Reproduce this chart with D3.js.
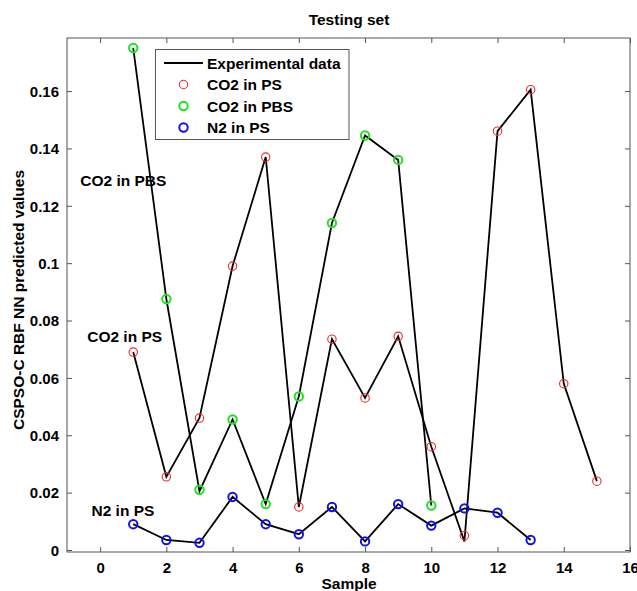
<!DOCTYPE html>
<html>
<head>
<meta charset="utf-8">
<script src="https://cdn.jsdelivr.net/npm/d3@7"></script>
<style>
  html, body { margin: 0; padding: 0; background: #fff; }
  svg { display: block; }
  text { font-family: "Liberation Sans", Arial, Helvetica, sans-serif; font-weight: bold; }
</style>
</head>
<body>
<svg id="chart" width="637" height="591"></svg>
<script>
// ---- Data ----
const co2PSSamples = [1,2,3,4,5,6,7,8,9,10,11,12,13,14,15];
const co2PSPred    = [0.069,0.0255,0.046,0.099,0.137,0.015,0.0735,0.053,0.0745,0.036,0.005,0.146,0.1605,0.058,0.024];
const co2PSExp     = [0.069,0.0255,0.046,0.099,0.137,0.015,0.0735,0.053,0.0745,0.036,0.003,0.146,0.1605,0.058,0.024];

const co2PBSSamples = [1,2,3,4,5,6,7,8,9,10];
const co2PBSPred    = [0.175,0.0875,0.021,0.0455,0.016,0.0535,0.114,0.1445,0.136,0.0155];
const co2PBSExp     = [0.175,0.0875,0.0205,0.0455,0.016,0.0535,0.114,0.1445,0.136,0.0155];

const n2PSSamples = [1,2,3,4,5,6,7,8,9,10,11,12,13];
const n2PSPred    = [0.009,0.0035,0.0025,0.0185,0.009,0.0055,0.015,0.003,0.016,0.0085,0.0145,0.013,0.0035];
const n2PSExp     = [0.009,0.0035,0.0025,0.0185,0.009,0.0055,0.015,0.003,0.016,0.0085,0.0145,0.013,0.0035];

const xTicks = [0,2,4,6,8,10,12,14,16];
const yTicks = [0,0.02,0.04,0.06,0.08,0.1,0.12,0.14,0.16];
const yTickLabels = ["0","0.02","0.04","0.06","0.08","0.1","0.12","0.14","0.16"];

const legendLabels = ["Experimental data","CO2 in PS","CO2 in PBS","N2 in PS"];
const seriesColors = ["#ee2a2a","#22e022","#1010ee"];
const annotations = [
  {text:"CO2 in PBS", x:-0.6, y:0.1269},
  {text:"CO2 in PS",  x:-0.39, y:0.0726},
  {text:"N2 in PS",   x:-0.26, y:0.01185}
];

// ---- Layout ----
const svg = d3.select("#chart");
const L = 67, R = 630, T = 38, B = 552;
const x = d3.scaleLinear().domain([-1,16]).range([L,R]);
const y = d3.scaleLinear().domain([-0.0007,0.1785]).range([B,T]);
const fs = 15.5;
const tfs = 15;
const axisColor = "#555";

// Box
svg.append("rect").attr("x",L).attr("y",T).attr("width",R-L).attr("height",B-T)
  .attr("fill","none").attr("stroke",axisColor).attr("stroke-width",1);

// Axes with inward ticks
const xb = svg.append("g").attr("transform",`translate(0,${B})`)
  .call(d3.axisBottom(x).tickValues(xTicks).tickSizeInner(-5).tickSizeOuter(0).tickPadding(10));
const xt = svg.append("g").attr("transform",`translate(0,${T})`)
  .call(d3.axisTop(x).tickValues(xTicks).tickSizeInner(-5).tickSizeOuter(0).tickFormat(""));
const yl = svg.append("g").attr("transform",`translate(${L},0)`)
  .call(d3.axisLeft(y).tickValues(yTicks).tickSizeInner(-5).tickSizeOuter(0).tickPadding(8)
    .tickFormat((d,i)=>yTickLabels[i]));
const yr = svg.append("g").attr("transform",`translate(${R},0)`)
  .call(d3.axisRight(y).tickValues(yTicks).tickSizeInner(-5).tickSizeOuter(0).tickFormat(""));
[xb,xt,yl,yr].forEach(g=>{
  g.select(".domain").remove();
  g.selectAll(".tick line").attr("stroke",axisColor);
  g.selectAll(".tick text").attr("fill","#000").style("font-size",tfs+"px")
   .style("font-family",'"Liberation Sans", Arial, sans-serif').style("font-weight","bold");
});
yl.selectAll(".tick text").attr("dy","0.35em");

// Lines
const line = d3.line().x(d=>x(d[0])).y(d=>y(d[1]));
const series = [
  {s:co2PSSamples, p:co2PSPred, e:co2PSExp, c:seriesColors[0], w:1.1},
  {s:co2PBSSamples, p:co2PBSPred, e:co2PBSExp, c:seriesColors[1], w:2},
  {s:n2PSSamples, p:n2PSPred, e:n2PSExp, c:seriesColors[2], w:2}
];
series.forEach(sr=>{
  svg.append("path").datum(sr.s.map((v,i)=>[v,sr.e[i]]))
    .attr("d",line).attr("fill","none").attr("stroke","#000").attr("stroke-width",1.8);
});
series.forEach(sr=>{
  svg.append("g").selectAll("circle").data(sr.s.map((v,i)=>[v,sr.p[i]])).join("circle")
    .attr("cx",d=>x(d[0])).attr("cy",d=>y(d[1])).attr("r",4.2)
    .attr("fill","none").attr("stroke",sr.c).attr("stroke-width",sr.w);
});

// Annotations
annotations.forEach(a=>{
  svg.append("text").attr("x",x(a.x)).attr("y",y(a.y)).style("font-size",fs+"px").text(a.text);
});

// Legend
const lg = svg.append("g");
lg.append("rect").attr("x",155.5).attr("y",49.5).attr("width",193.5).attr("height",90)
  .attr("fill","#fff").attr("stroke",axisColor).attr("stroke-width",1);
const rowY = [63,84.5,106,127.5];
lg.append("line").attr("x1",164).attr("x2",203).attr("y1",rowY[0]).attr("y2",rowY[0])
  .attr("stroke","#000").attr("stroke-width",1.8);
[1,2,3].forEach(i=>{
  lg.append("circle").attr("cx",183.5).attr("cy",rowY[i]).attr("r",4.2)
    .attr("fill","none").attr("stroke",seriesColors[i-1]).attr("stroke-width",series[i-1].w);
});
legendLabels.forEach((t,i)=>{
  lg.append("text").attr("x",207).attr("y",rowY[i]).attr("dy","0.36em")
    .style("font-size",fs+"px").text(t);
});

// Title & labels
svg.append("text").attr("x",349).attr("y",25).attr("text-anchor","middle")
  .style("font-size",fs+"px").text("Testing set");
svg.append("text").attr("x",349).attr("y",589).attr("text-anchor","middle")
  .style("font-size",fs+"px").text("Sample");
svg.append("text").attr("transform","translate(24,300) rotate(-90)").attr("text-anchor","middle")
  .style("font-size",fs+"px").text("CSPSO-C RBF NN predicted values");
</script>
</body>
</html>
